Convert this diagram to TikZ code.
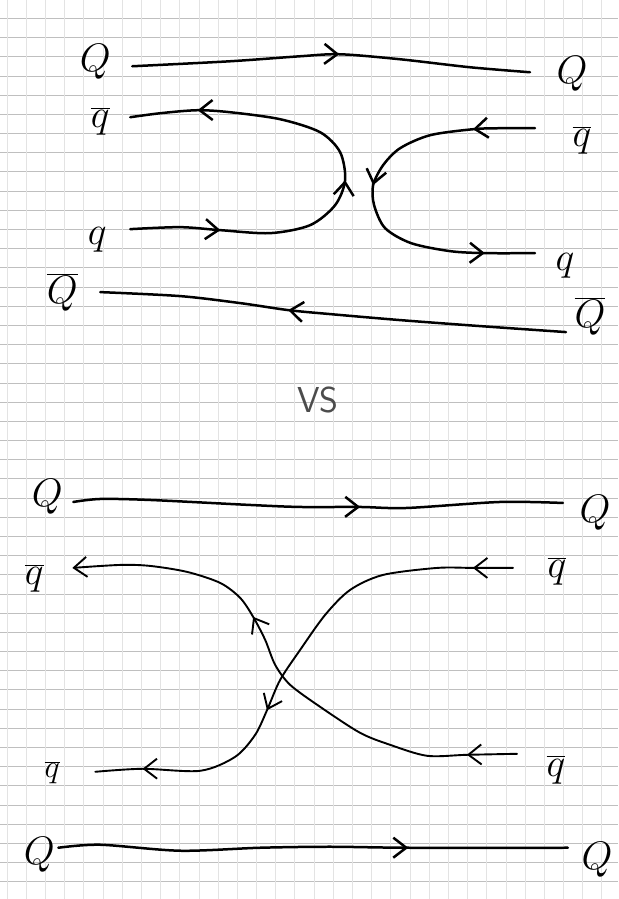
\documentclass[tikz,border=0pt]{standalone}
\usetikzlibrary{arrows.meta,decorations.markings}
\begin{document}
\begin{tikzpicture}[x=1pt,y=-1pt,
  lab/.style={inner sep=0pt, font=\Huge, scale=1.6},
  smalllab/.style={inner sep=0pt, font=\Huge, scale=1.3},
  stroke/.style={line width=2.5pt, line cap=round, line join=round},
  thinstroke/.style={line width=1.9pt, line cap=round, line join=round},
  handtip/.style={arrows={-Straight Barb[length=13pt,width=20pt]}},
  arrowsat/.style={postaction={decorate, decoration={markings,
      mark=at position #1 with {\arrow{Straight Barb[length=13pt,width=20pt]}}}}},
  gridh/.style={gray!50, line width=0.7pt},
  gridv/.style={gray!22, line width=0.6pt}
]
% paper
\fill[white] (0,0) rectangle (618,899);
\foreach \y in {18,37.2,...,899} \draw[gridh] (0,\y) -- (618,\y);
\foreach \x in {6.6,25.8,...,618} \draw[gridv] (\x,0) -- (\x,899);
\useasboundingbox (0,0) rectangle (618,899);

% ---------- top diagram labels
\node[lab] (Qtl) at (95,62) {$Q$};
\node[lab] (Qtr) at (572,74) {$Q$};
\node[lab] (qbtl) at (100,121) {$\overline{q}$};
\node[lab] (qbtr) at (582,140) {$\overline{q}$};
\node[lab] (qtl) at (97,240) {$q$};
\node[lab] (qtr) at (565,266) {$q$};
\node[lab] (Qbtl) at (62,292) {$\overline{Q}$};
\node[lab] (Qbtr) at (590,316) {$\overline{Q}$};

% ---------- top diagram lines
\coordinate (a1) at (132,66); \coordinate (b1) at (530,72);
\draw[stroke, arrowsat=0.52] plot[smooth] coordinates
  {(a1) (230,61) (300,56) (340,54) (400,59) (470,67) (b1)};

\coordinate (a2) at (130,229); \coordinate (b2) at (130,117);
\draw[stroke, arrowsat=0.184, arrowsat=0.49, arrowsat=0.862] plot[smooth] coordinates
  {(a2) (180,227) (220,230) (270,233) (310,225) (335,205) (345,180) (340,152)
   (320,132) (280,119) (230,112) (197,110) (160,113) (b2)};

\coordinate (a3) at (535,128); \coordinate (b3) at (535,253);
\draw[stroke, arrowsat=0.161, arrowsat=0.479, arrowsat=0.87] plot[smooth] coordinates
  {(a3) (500,128) (473,129) (430,135) (400,148) (383,165) (373,185) (374,205)
   (385,228) (411,243) (450,251) (485,253) (b3)};

\coordinate (a4) at (566,332); \coordinate (b4) at (100,292);
\draw[stroke, arrowsat=0.596] plot[smooth] coordinates
  {(a4) (480,326) (400,320) (330,314) (288,310) (240,303) (180,296) (b4)};

% ---------- vs
\node[inner sep=0pt, font=\sffamily\Huge, scale=1.45, text=black!70] (vs) at (318,400) {VS};

% ---------- bottom diagram labels
\node[lab] (Qbl1) at (47,497) {$Q$};
\node[lab] (Qbr1) at (595,513) {$Q$};
\node[lab] (qbbl1) at (34,578) {$\overline{q}$};
\node[lab] (qbbr1) at (557,571) {$\overline{q}$};
\node[smalllab] (qbbl2) at (52,773) {$\overline{q}$};
\node[lab] (qbbr2) at (556,770) {$\overline{q}$};
\node[lab] (Qbl3) at (39,855) {$Q$};
\node[lab] (Qbr3) at (597,860) {$Q$};

% ---------- bottom diagram lines
\coordinate (a5) at (73,502); \coordinate (b5) at (563,503);
\draw[stroke, arrowsat=0.586] plot[smooth] coordinates
  {(a5) (100,499) (150,500) (250,505) (300,507) (360,507) (407,508) (500,502) (b5)};

\coordinate (a6) at (517,754); \coordinate (b6) at (72,568);
\draw[thinstroke, handtip, arrowsat=0.096, arrowsat=0.62] plot[smooth] coordinates
  {(a6) (467,755) (427,756) (390,745) (360,733) (320,707) (290,685) (275,665)
   (265,640) (253,617) (240,598) (220,583) (187,572) (150,566) (120,565) (b6)};

\coordinate (a7) at (513,568); \coordinate (b7) at (95,772);
\draw[thinstroke, arrowsat=0.078, arrowsat=0.611, arrowsat=0.908] plot[smooth] coordinates
  {(a7) (473,568) (437,568) (383,575) (350,590) (325,615) (300,650) (280,680)
   (267,710) (255,735) (235,757) (200,771) (142,769) (b7)};

\coordinate (a8) at (58,848); \coordinate (b8) at (568,848);
\draw[stroke, arrowsat=0.687] plot[smooth] coordinates
  {(a8) (100,845) (180,851) (260,848) (330,847) (408,848) (b8)};
\end{tikzpicture}
\end{document}
